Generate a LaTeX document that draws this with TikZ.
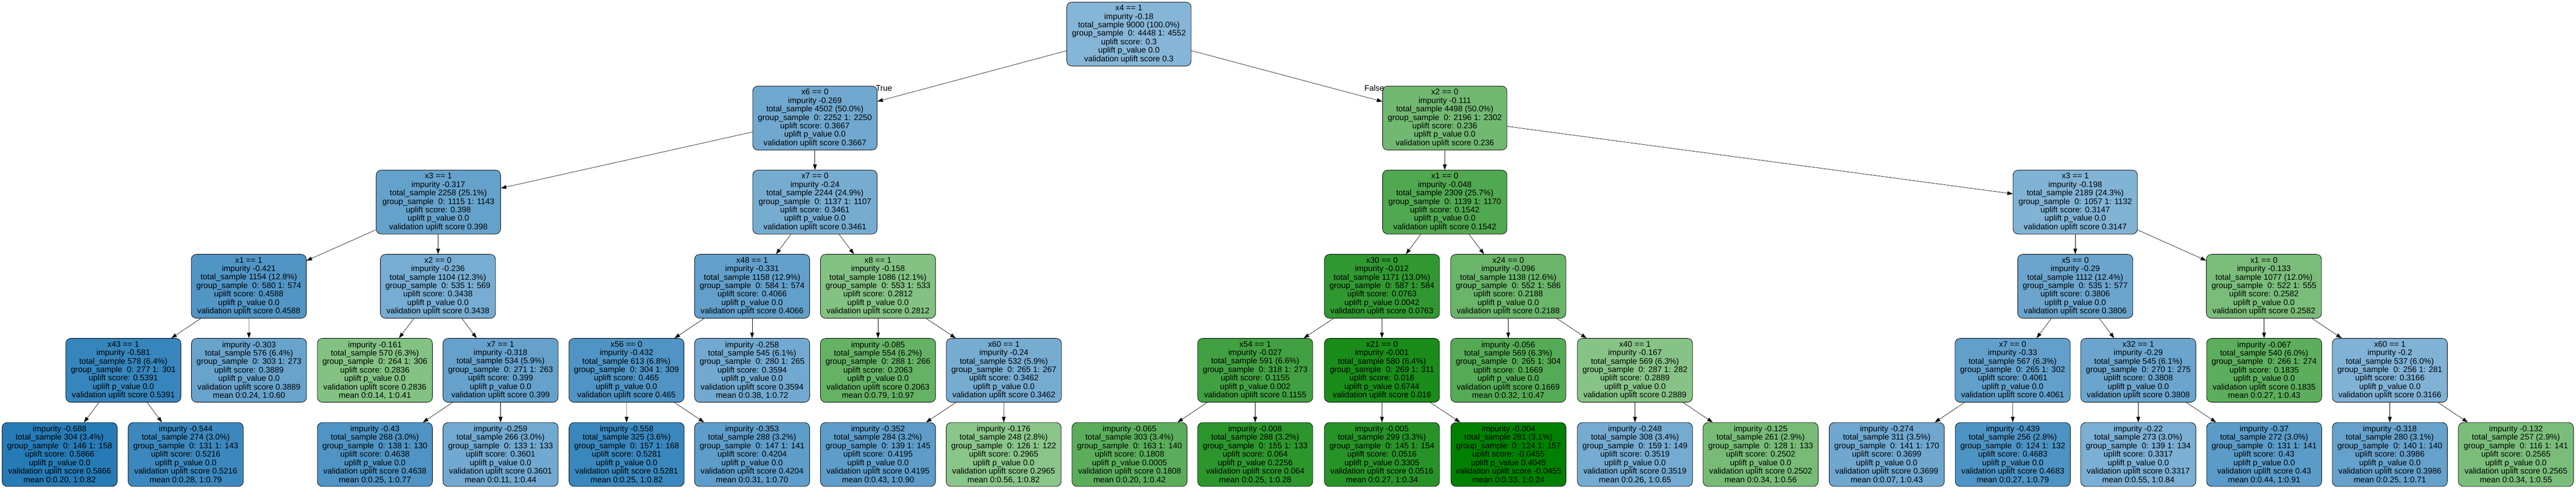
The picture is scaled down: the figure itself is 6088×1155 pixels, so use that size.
\documentclass[tikz,border=0pt]{standalone}
\usepackage{fontspec}
\setmainfont{Liberation Sans}
\usepackage{xcolor}
\usepackage{tikz}
\usetikzlibrary{arrows.meta}
\definecolor{upblue}{HTML}{1F77B4}
\definecolor{upgreen}{HTML}{008000}
\newcommand{\nodefont}{\fontsize{9.6}{10}\selectfont}
\newcommand{\splitinfo}[6]{#1\\impurity #2\\total\_sample #3\\group\_sample\ \ #4\\uplift score: #5\\uplift p\_value #6\\validation uplift score #5}
\newcommand{\leafinfo}[6]{impurity #1\\total\_sample #2\\group\_sample\ \ #3\\uplift score: #4\\uplift p\_value #5\\validation uplift score #4\\mean #6}

\begin{document}
\begin{tikzpicture}[
    x=0.5pt, y=-0.5pt,
    tree/.style={draw, rounded corners=6pt, line width=0.5pt, align=center, inner sep=0pt, minimum height=75.5pt, font=\nodefont},
    upper/.style={tree, minimum width=147pt},
    lower/.style={tree, minimum width=136pt},
    score/.code={\pgfmathsetmacro\upshade{#1<0.3 ? min(100,46+(0.2965-(#1))*158) : min(100,54+((#1)-0.3)*150)}%
      \ifdim #1pt<0.3pt \edef\upnext{\noexpand\pgfkeysalso{fill=upgreen!\upshade!white}}%
      \else \edef\upnext{\noexpand\pgfkeysalso{fill=upblue!\upshade!white}}\fi\upnext},
    edgelabel/.style={font=\nodefont},
    >={Triangle[length=6.5pt,width=4.5pt]}
    ]
\useasboundingbox (0,0) rectangle (6088,1155);
% root and first splits
\node[upper, score=0.3] (r) at (2668,80.5) {\splitinfo{x4 == 1}{-0.18}{9000 (100.0\%)}{0: 4448 1: 4552}{0.3}{0.0}};
\node[upper, score=0.3667] (ra) at (1926,279) {\splitinfo{x6 == 0}{-0.269}{4502 (50.0\%)}{0: 2252 1: 2250}{0.3667}{0.0}};
\node[upper, score=0.236] (rb) at (3414.5,279) {\splitinfo{x2 == 0}{-0.111}{4498 (50.0\%)}{0: 2196 1: 2302}{0.236}{0.0}};
\node[edgelabel] (truelab) at (2089,209) {True};
\node[edgelabel] (falselab) at (3248,208) {False};

\node[upper, score=0.398] (raa) at (1036,477.5) {\splitinfo{x3 == 1}{-0.317}{2258 (25.1\%)}{0: 1115 1: 1143}{0.398}{0.0}};
\node[upper, score=0.3461] (rab) at (1926,477.5) {\splitinfo{x7 == 0}{-0.24}{2244 (24.9\%)}{0: 1137 1: 1107}{0.3461}{0.0}};
\node[upper, score=0.1542] (rba) at (3414.5,477.5) {\splitinfo{x1 == 0}{-0.048}{2309 (25.7\%)}{0: 1139 1: 1170}{0.1542}{0.0}};
\node[upper, score=0.3147] (rbb) at (4904.5,477.5) {\splitinfo{x3 == 1}{-0.198}{2189 (24.3\%)}{0: 1057 1: 1132}{0.3147}{0.0}};

% third level
\node[lower, score=0.4588] (raaa) at (588,676.5) {\splitinfo{x1 == 1}{-0.421}{1154 (12.8\%)}{0: 580 1: 574}{0.4588}{0.0}};
\node[lower, score=0.3438] (raab) at (1035,676.5) {\splitinfo{x2 == 0}{-0.236}{1104 (12.3\%)}{0: 535 1: 569}{0.3438}{0.0}};
\node[lower, score=0.4066] (raba) at (1777.5,676.5) {\splitinfo{x48 == 1}{-0.331}{1158 (12.9\%)}{0: 584 1: 574}{0.4066}{0.0}};
\node[lower, score=0.2812] (rabb) at (2075,676.5) {\splitinfo{x8 == 1}{-0.158}{1086 (12.1\%)}{0: 553 1: 533}{0.2812}{0.0}};
\node[lower, score=0.0763] (rbaa) at (3266,676.5) {\splitinfo{x30 == 0}{-0.012}{1171 (13.0\%)}{0: 587 1: 584}{0.0763}{0.0042}};
\node[lower, score=0.2188] (rbab) at (3564.5,676.5) {\splitinfo{x24 == 0}{-0.096}{1138 (12.6\%)}{0: 552 1: 586}{0.2188}{0.0}};
\node[lower, score=0.3806] (rbba) at (4904.5,676.5) {\splitinfo{x5 == 0}{-0.29}{1112 (12.4\%)}{0: 535 1: 577}{0.3806}{0.0}};
\node[lower, score=0.2582] (rbbb) at (5350.5,676.5) {\splitinfo{x1 == 0}{-0.133}{1077 (12.0\%)}{0: 522 1: 555}{0.2582}{0.0}};

% fourth level
\node[lower, score=0.5391] (raaaa) at (291.5,875) {\splitinfo{x43 == 1}{-0.581}{578 (6.4\%)}{0: 277 1: 301}{0.5391}{0.0}};
\node[lower, score=0.3889] (raaab) at (588.5,875) {\leafinfo{-0.303}{576 (6.4\%)}{0: 303 1: 273}{0.3889}{0.0}{0:0.24, 1:0.60}};
\node[lower, score=0.2836] (raaba) at (886,875) {\leafinfo{-0.161}{570 (6.3\%)}{0: 264 1: 306}{0.2836}{0.0}{0:0.14, 1:0.41}};
\node[lower, score=0.399] (raabb) at (1183,875) {\splitinfo{x7 == 1}{-0.318}{534 (5.9\%)}{0: 271 1: 263}{0.399}{0.0}};
\node[lower, score=0.465] (rabaa) at (1480.5,875) {\splitinfo{x56 == 0}{-0.432}{613 (6.8\%)}{0: 304 1: 309}{0.465}{0.0}};
\node[lower, score=0.3594] (rabab) at (1777.5,875) {\leafinfo{-0.258}{545 (6.1\%)}{0: 280 1: 265}{0.3594}{0.0}{0:0.38, 1:0.72}};
\node[lower, score=0.2063] (rabba) at (2075,875) {\leafinfo{-0.085}{554 (6.2\%)}{0: 288 1: 266}{0.2063}{0.0}{0:0.79, 1:0.97}};
\node[lower, score=0.3462] (rabbb) at (2372.5,875) {\splitinfo{x60 == 1}{-0.24}{532 (5.9\%)}{0: 265 1: 267}{0.3462}{0.0}};
\node[lower, score=0.1155] (rbaaa) at (2966.5,875) {\splitinfo{x54 == 1}{-0.027}{591 (6.6\%)}{0: 318 1: 273}{0.1155}{0.002}};
\node[lower, score=0.016] (rbaab) at (3266,875) {\splitinfo{x21 == 0}{-0.001}{580 (6.4\%)}{0: 269 1: 311}{0.016}{0.6744}};
\node[lower, score=0.1669] (rbaba) at (3564.5,875) {\leafinfo{-0.056}{569 (6.3\%)}{0: 265 1: 304}{0.1669}{0.0}{0:0.32, 1:0.47}};
\node[lower, score=0.2889] (rbabb) at (3864,875) {\splitinfo{x40 == 1}{-0.167}{569 (6.3\%)}{0: 287 1: 282}{0.2889}{0.0}};
\node[lower, score=0.4061] (rbbaa) at (4756.5,875) {\splitinfo{x7 == 0}{-0.33}{567 (6.3\%)}{0: 265 1: 302}{0.4061}{0.0}};
\node[lower, score=0.3808] (rbbab) at (5053.5,875) {\splitinfo{x32 == 1}{-0.29}{545 (6.1\%)}{0: 270 1: 275}{0.3808}{0.0}};
\node[lower, score=0.1835] (rbbba) at (5351,875) {\leafinfo{-0.067}{540 (6.0\%)}{0: 266 1: 274}{0.1835}{0.0}{0:0.27, 1:0.43}};
\node[lower, score=0.3166] (rbbbb) at (5648,875) {\splitinfo{x60 == 1}{-0.2}{537 (6.0\%)}{0: 256 1: 281}{0.3166}{0.0}};

% leaves
\node[lower, score=0.5866] (raaaaa) at (141,1074) {\leafinfo{-0.688}{304 (3.4\%)}{0: 146 1: 158}{0.5866}{0.0}{0:0.20, 1:0.82}};
\node[lower, score=0.5216] (raaaab) at (439,1074) {\leafinfo{-0.544}{274 (3.0\%)}{0: 131 1: 143}{0.5216}{0.0}{0:0.28, 1:0.79}};
\node[lower, score=0.4638] (raabba) at (886,1074) {\leafinfo{-0.43}{268 (3.0\%)}{0: 138 1: 130}{0.4638}{0.0}{0:0.25, 1:0.77}};
\node[lower, score=0.3601] (raabbb) at (1183,1074) {\leafinfo{-0.259}{266 (3.0\%)}{0: 133 1: 133}{0.3601}{0.0}{0:0.11, 1:0.44}};
\node[lower, score=0.5281] (rabaaa) at (1481,1074) {\leafinfo{-0.558}{325 (3.6\%)}{0: 157 1: 168}{0.5281}{0.0}{0:0.25, 1:0.82}};
\node[lower, score=0.4204] (rabaab) at (1777.5,1074) {\leafinfo{-0.353}{288 (3.2\%)}{0: 147 1: 141}{0.4204}{0.0}{0:0.31, 1:0.70}};
\node[lower, score=0.4195] (rabbba) at (2075,1074) {\leafinfo{-0.352}{284 (3.2\%)}{0: 139 1: 145}{0.4195}{0.0}{0:0.43, 1:0.90}};
\node[lower, score=0.2965] (rabbbb) at (2372,1074) {\leafinfo{-0.176}{248 (2.8\%)}{0: 126 1: 122}{0.2965}{0.0}{0:0.56, 1:0.82}};
\node[lower, score=0.1808] (rbaaaa) at (2669.5,1074) {\leafinfo{-0.065}{303 (3.4\%)}{0: 163 1: 140}{0.1808}{0.0005}{0:0.20, 1:0.42}};
\node[lower, score=0.064] (rbaaab) at (2966.5,1074) {\leafinfo{-0.008}{288 (3.2\%)}{0: 155 1: 133}{0.064}{0.2256}{0:0.25, 1:0.28}};
\node[lower, score=0.0516] (rbaaba) at (3266,1074) {\leafinfo{-0.005}{299 (3.3\%)}{0: 145 1: 154}{0.0516}{0.3305}{0:0.27, 1:0.34}};
\node[lower, score=-0.0455] (rbaabb) at (3565,1074) {\leafinfo{-0.004}{281 (3.1\%)}{0: 124 1: 157}{-0.0455}{0.4045}{0:0.33, 1:0.24}};
\node[lower, score=0.3519] (rbabba) at (3864,1074) {\leafinfo{-0.248}{308 (3.4\%)}{0: 159 1: 149}{0.3519}{0.0}{0:0.26, 1:0.65}};
\node[lower, score=0.2502] (rbabbb) at (4161,1074) {\leafinfo{-0.125}{261 (2.9\%)}{0: 128 1: 133}{0.2502}{0.0}{0:0.34, 1:0.56}};
\node[lower, score=0.3699] (rbbaaa) at (4459,1074) {\leafinfo{-0.274}{311 (3.5\%)}{0: 141 1: 170}{0.3699}{0.0}{0:0.07, 1:0.43}};
\node[lower, score=0.4683] (rbbaab) at (4757,1074) {\leafinfo{-0.439}{256 (2.8\%)}{0: 124 1: 132}{0.4683}{0.0}{0:0.27, 1:0.79}};
\node[lower, score=0.3317] (rbbaba) at (5053.5,1074) {\leafinfo{-0.22}{273 (3.0\%)}{0: 139 1: 134}{0.3317}{0.0}{0:0.55, 1:0.84}};
\node[lower, score=0.43] (rbbabb) at (5351,1074) {\leafinfo{-0.37}{272 (3.0\%)}{0: 131 1: 141}{0.43}{0.0}{0:0.44, 1:0.91}};
\node[lower, score=0.3986] (rbbbba) at (5648,1074) {\leafinfo{-0.318}{280 (3.1\%)}{0: 140 1: 140}{0.3986}{0.0}{0:0.25, 1:0.71}};
\node[lower, score=0.2565] (rbbbbb) at (5946,1074) {\leafinfo{-0.132}{257 (2.9\%)}{0: 116 1: 141}{0.2565}{0.0}{0:0.34, 1:0.55}};

\draw[->] (r) to (ra);
\draw[->] (r) to (rb);
\draw[->] (ra) to (raa);
\draw[->] (ra) to (rab);
\draw[->] (rb) to (rba);
\draw[->] (rb) to (rbb);
\draw[->] (raa) to (raaa);
\draw[->] (raa) to (raab);
\draw[->] (rab) to (raba);
\draw[->] (rab) to (rabb);
\draw[->] (rba) to (rbaa);
\draw[->] (rba) to (rbab);
\draw[->] (rbb) to (rbba);
\draw[->] (rbb) to (rbbb);
\draw[->] (raaa) to (raaaa);
\draw[->] (raaa) to (raaab);
\draw[->] (raab) to (raaba);
\draw[->] (raab) to (raabb);
\draw[->] (raba) to (rabaa);
\draw[->] (raba) to (rabab);
\draw[->] (rabb) to (rabba);
\draw[->] (rabb) to (rabbb);
\draw[->] (rbaa) to (rbaaa);
\draw[->] (rbaa) to (rbaab);
\draw[->] (rbab) to (rbaba);
\draw[->] (rbab) to (rbabb);
\draw[->] (rbba) to (rbbaa);
\draw[->] (rbba) to (rbbab);
\draw[->] (rbbb) to (rbbba);
\draw[->] (rbbb) to (rbbbb);
\draw[->] (raaaa) to (raaaaa);
\draw[->] (raaaa) to (raaaab);
\draw[->] (raabb) to (raabba);
\draw[->] (raabb) to (raabbb);
\draw[->] (rabaa) to (rabaaa);
\draw[->] (rabaa) to (rabaab);
\draw[->] (rabbb) to (rabbba);
\draw[->] (rabbb) to (rabbbb);
\draw[->] (rbaaa) to (rbaaaa);
\draw[->] (rbaaa) to (rbaaab);
\draw[->] (rbaab) to (rbaaba);
\draw[->] (rbaab) to (rbaabb);
\draw[->] (rbabb) to (rbabba);
\draw[->] (rbabb) to (rbabbb);
\draw[->] (rbbaa) to (rbbaaa);
\draw[->] (rbbaa) to (rbbaab);
\draw[->] (rbbab) to (rbbaba);
\draw[->] (rbbab) to (rbbabb);
\draw[->] (rbbbb) to (rbbbba);
\draw[->] (rbbbb) to (rbbbbb);
\end{tikzpicture}
\end{document}
